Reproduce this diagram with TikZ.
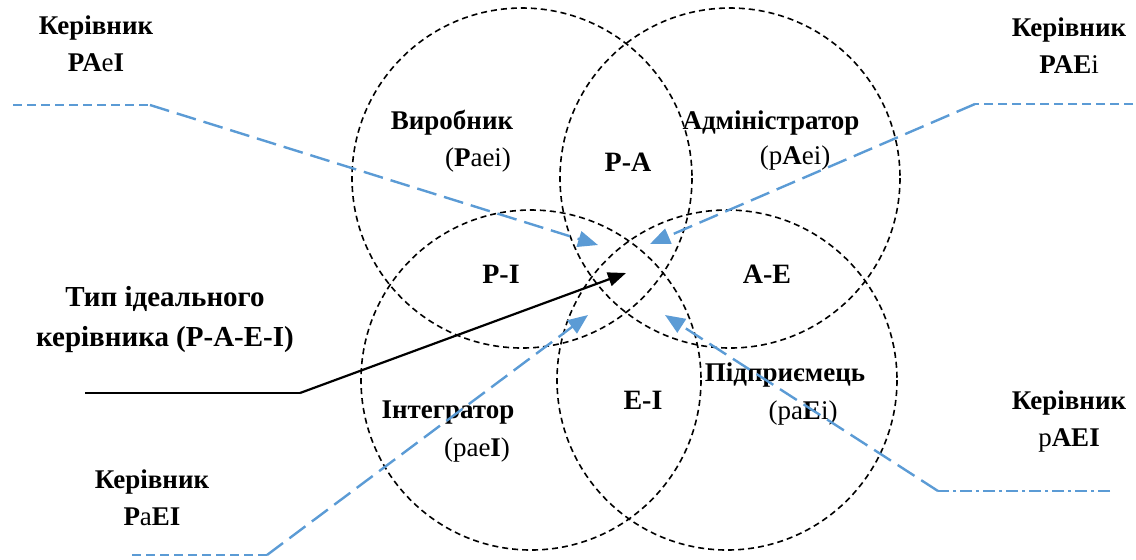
\documentclass[tikz,border=0pt]{standalone}
\usepackage{fontspec}
\setmainfont{Liberation Serif}
\usetikzlibrary{arrows.meta}
\definecolor{leadblue}{RGB}{91,155,213}
\tikzset{
  role/.style={line width=0.8pt, dash pattern=on 3pt off 2pt},
  lead/.style={leadblue, line width=1.2pt, dash pattern=on 10pt off 4pt},
  leadfine/.style={leadblue, line width=1pt, dash pattern=on 4.5pt off 2.5pt},
  leaddot/.style={leadblue, line width=1pt, dash pattern=on 6pt off 2pt on 1.5pt off 2pt},
  tip/.style={-{Triangle[length=10pt,width=8pt]}},
  lbl/.style={inner sep=0pt, align=center, font=\fontsize{13.5}{18.5}\selectfont},
  zone/.style={inner sep=0pt, font=\fontsize{14}{16}\selectfont\bfseries},
}
\begin{document}
\begin{tikzpicture}[x=0.5pt,y=-0.5pt]
  \useasboundingbox (0,0) rectangle (1136,559);
  % four roles
  \coordinate (prod) at (522,178);
  \coordinate (adm) at (730,178);
  \coordinate (integ) at (531,380);
  \coordinate (entr) at (727,380);
  \draw[role] (prod) circle [radius=170];
  \draw[role] (adm) circle [radius=170];
  \draw[role] (integ) circle [radius=170];
  \draw[role] (entr) circle [radius=170];

  % role names
  \node[lbl] (prodname) at (452,123) {\bfseries Виробник};
  \node[lbl] (prodcode) at (478,160) {(\textbf{P}aei)};
  \node[lbl] (admname) at (771,123) {\bfseries Адміністратор};
  \node[lbl] (admcode) at (795,158) {(p\textbf{A}ei)};
  \node[lbl] (integname) at (448,413) {\bfseries Інтегратор};
  \node[lbl] (integcode) at (477,450) {(pae\textbf{I})};
  \node[lbl] (entrname) at (785,375) {\bfseries Підприємець};
  \node[lbl] (entrcode) at (803,413) {(pa\textbf{E}i)};

  % overlaps
  \node[zone] (pa) at (628,162) {P-A};
  \node[zone] (pi) at (501,274) {P-I};
  \node[zone] (ae) at (767,274) {A-E};
  \node[zone] (ei) at (643,400) {E-I};

  % managers
  \node[lbl] (mgrPAeI) at (96,44) {\bfseries Керівник\\\textbf{PA}e\textbf{I}};
  \node[lbl] (mgrPAEi) at (1069,46) {\bfseries Керівник\\\textbf{PAE}i};
  \node[lbl] (mgrpAEI) at (1069,421) {\bfseries Керівник\\p\textbf{AEI}};
  \node[lbl] (mgrPaEI) at (152,498) {\bfseries Керівник\\\textbf{P}a\textbf{EI}};
  \node[lbl, font=\fontsize{14.5}{20}\selectfont\bfseries] (ideal) at (165,320)
    {Тип ідеального\\керівника (P-A-E-I)};

  % leader lines
  \coordinate (a0) at (13,105);   \coordinate (a1) at (150,105);   \coordinate (aT) at (598,245);
  \coordinate (b0) at (1133,104); \coordinate (b1) at (975,104);   \coordinate (bT) at (650,244);
  \coordinate (c0) at (132,555);  \coordinate (c1) at (267,555);   \coordinate (cT) at (588,315);
  \coordinate (d0) at (1110,491); \coordinate (d1) at (938,491);   \coordinate (dT) at (665,315);
  \coordinate (e0) at (85,393);   \coordinate (e1) at (300,393);   \coordinate (eT) at (626,273);
  \draw[leadfine] (a0) -- (a1);
  \draw[lead,tip] (a1) -- (aT);
  \draw[leadfine] (b0) -- (b1);
  \draw[lead,tip] (b1) -- (bT);
  \draw[leadfine] (c0) -- (c1);
  \draw[lead,tip] (c1) -- (cT);
  \draw[leaddot] (d0) -- (d1);
  \draw[lead,tip] (d1) -- (dT);
  \draw[line width=1.1pt] (e0) -- (e1);
  \draw[line width=1.1pt,-{Triangle[length=9pt,width=7pt]}] (e1) -- (eT);
\end{tikzpicture}
\end{document}
